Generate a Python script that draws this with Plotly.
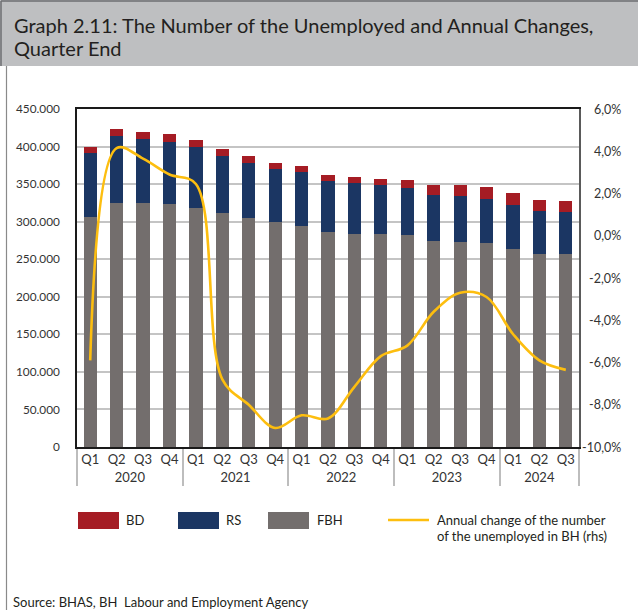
import plotly.graph_objects as go

# Quarter-end unemployment by entity (persons) and annual change of the BH total (%)
years = ["2020", "2020", "2020", "2020",
         "2021", "2021", "2021", "2021",
         "2022", "2022", "2022", "2022",
         "2023", "2023", "2023", "2023",
         "2024", "2024", "2024"]
quarters = ["Q1", "Q2", "Q3", "Q4",
            "Q1", "Q2", "Q3", "Q4",
            "Q1", "Q2", "Q3", "Q4",
            "Q1", "Q2", "Q3", "Q4",
            "Q1", "Q2", "Q3"]

fbh = [306400, 325000, 325000, 322900, 318400, 310900, 305100, 299300, 294900,
       286900, 284200, 284200, 281600, 274400, 273100, 271300, 264200, 257600, 257600]
rs = [85300, 89400, 85400, 83500, 80900, 76000, 72900, 70300, 71500,
      67100, 67100, 64900, 63100, 60500, 60500, 59100, 58200, 56000, 55500]
bd = [8300, 8900, 9300, 9800, 9400, 9300, 8900, 8400, 7600,
      8000, 7600, 7600, 10600, 13800, 15100, 15200, 15200, 14600, 13800]
annual_change = [-5.9, 4.15, 3.65, 2.9, 2.45, -6.8, -8.0, -9.1, -8.5,
                 -8.65, -7.15, -5.7, -5.2, -3.6, -2.7, -2.9, -4.65, -5.9, -6.35]

left_ticks = [0, 50000, 100000, 150000, 200000, 250000, 300000, 350000, 400000, 450000]
left_ticktext = ["0", "50.000", "100.000", "150.000", "200.000", "250.000",
                 "300.000", "350.000", "400.000", "450.000"]
right_ticks = [-10, -8, -6, -4, -2, 0, 2, 4, 6]
right_ticktext = ["-10,0%", "-8,0%", "-6,0%", "-4,0%", "-2,0%", "0,0%", "2,0%", "4,0%", "6,0%"]

legend_names = ["BD", "RS", "FBH"]
line_name_lines = ["Annual change of the number", "of the unemployed in BH (rhs)"]
title_lines = ["Graph 2.11: The Number of the Unemployed and Annual Changes,", "Quarter End"]
source_text = "Source: BHAS, BH  Labour and Employment Agency"

C_BD = "#A51C24"
C_RS = "#1B3663"
C_FBH = "#736E6D"
C_LINE = "#FDBE0F"
FONT = "Lato"
TXT = "#231F20"
TICK = "#333333"

W, H = 638, 610
L, R, T, B = 77, 59, 109, 163
PW, PH = W - L - R, H - T - B


def px(x):
    return (x - L) / PW


def py(y):
    return (T + PH - y) / PH


x = [years, quarters]

fig = go.Figure()
fig.add_trace(go.Bar(x=x, y=fbh, name="FBH", marker_color=C_FBH, marker_line_width=0))
fig.add_trace(go.Bar(x=x, y=rs, name="RS", marker_color=C_RS, marker_line_width=0))
fig.add_trace(go.Bar(x=x, y=bd, name="BD", marker_color=C_BD, marker_line_width=0))
fig.add_trace(go.Scatter(x=x, y=annual_change, yaxis="y2", mode="lines",
                         line=dict(color=C_LINE, width=2.6, shape="spline", smoothing=1.0),
                         name="Annual change"))

shapes = [
    # heading band
    dict(type="rect", xref="paper", yref="paper", x0=px(0), x1=px(W), y0=py(66), y1=py(0),
         fillcolor="#BEBFC1", line=dict(width=0), layer="below"),
    dict(type="line", xref="paper", yref="paper", x0=px(1), x1=px(W), y0=py(1), y1=py(1),
         line=dict(color="#6D6E70", width=1.5)),
    dict(type="line", xref="paper", yref="paper", x0=px(1), x1=px(1), y0=py(66), y1=py(1),
         line=dict(color="#6D6E70", width=1.5)),
    # left frame rule
    dict(type="line", xref="paper", yref="paper", x0=px(6.5), x1=px(6.5), y0=py(66), y1=py(H),
         line=dict(color="#8A8A8A", width=1.2)),
    # legend swatches
    dict(type="rect", xref="paper", yref="paper", x0=px(78), x1=px(119), y0=py(529), y1=py(512),
         fillcolor=C_BD, line=dict(width=0)),
    dict(type="rect", xref="paper", yref="paper", x0=px(178), x1=px(219), y0=py(529), y1=py(512),
         fillcolor=C_RS, line=dict(width=0)),
    dict(type="rect", xref="paper", yref="paper", x0=px(268), x1=px(309), y0=py(529), y1=py(512),
         fillcolor=C_FBH, line=dict(width=0)),
    dict(type="line", xref="paper", yref="paper", x0=px(388), x1=px(429), y0=py(520), y1=py(520),
         line=dict(color=C_LINE, width=2.6)),
]

annotations = [
    dict(text=title_lines[0], x=px(12), y=py(25), xanchor="left", yanchor="middle"),
    dict(text=title_lines[1], x=px(12), y=py(48), xanchor="left", yanchor="middle"),
    dict(text=legend_names[0], x=px(124), y=py(520), xanchor="left", yanchor="middle"),
    dict(text=legend_names[1], x=px(224), y=py(520), xanchor="left", yanchor="middle"),
    dict(text=legend_names[2], x=px(315), y=py(520), xanchor="left", yanchor="middle"),
    dict(text=line_name_lines[0], x=px(435), y=py(520), xanchor="left", yanchor="middle"),
    dict(text=line_name_lines[1], x=px(435), y=py(536), xanchor="left", yanchor="middle"),
    dict(text=source_text, x=px(11), y=py(602), xanchor="left", yanchor="middle"),
]
for i, a in enumerate(annotations):
    a.update(xref="paper", yref="paper", showarrow=False)
    size = 20 if i < 2 else (13 if i < 7 else 13)
    a["font"] = dict(family=FONT, size=size, color=TXT)

# right-hand axis labels, right-aligned against the page edge
for v, t in zip(right_ticks, right_ticktext):
    annotations.append(dict(text=t, xref="paper", x=px(623), yref="y2", y=v,
                            xanchor="right", yanchor="middle", showarrow=False,
                            font=dict(family=FONT, size=12.5, color=TICK)))

fig.update_layout(
    width=W, height=H,
    margin=dict(l=L, r=R, t=T, b=B, pad=0),
    paper_bgcolor="white", plot_bgcolor="white",
    barmode="stack", bargap=0.5,
    showlegend=False,
    font=dict(family=FONT, size=12.5, color=TICK),
    xaxis=dict(type="multicategory", showgrid=False, showline=True, linecolor="#1A1A1A",
               linewidth=1.5, mirror=True, ticks="", tickangle=0, showdividers=True,
               dividercolor="#BDBDBD", dividerwidth=1.5,
               tickfont=dict(family=FONT, size=13, color=TICK)),
    yaxis=dict(range=[0, 450000], tickvals=left_ticks, ticktext=left_ticktext,
               showgrid=True, gridcolor="#C4C4C4", gridwidth=1.5, zeroline=False,
               showline=True, linecolor="#1A1A1A", linewidth=1.5,
               ticks="", ticklabelstandoff=13,
               tickfont=dict(family=FONT, size=11.8, color=TICK)),
    yaxis2=dict(range=[-10, 6], tickvals=right_ticks, showticklabels=False,
                overlaying="y", side="right", showgrid=False, zeroline=False,
                showline=True, linecolor="#5A5A5A", linewidth=1.5, ticks=""),
    shapes=shapes,
    annotations=annotations,
)

fig.write_html("out.html")
